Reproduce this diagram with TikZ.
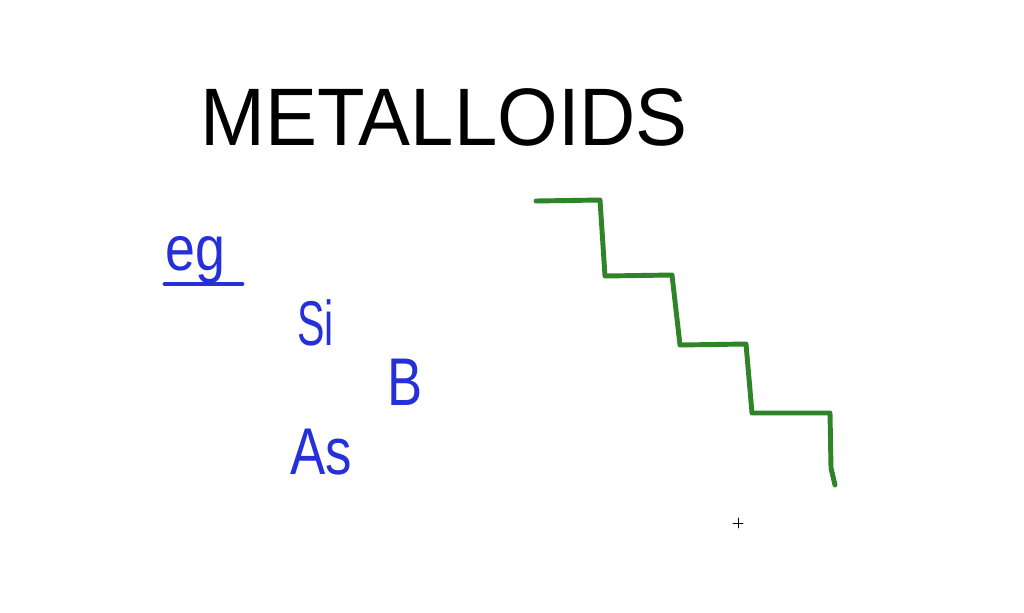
\documentclass[tikz,border=0pt]{standalone}
\usepackage{fontspec}
\setmainfont{Liberation Sans}
\usetikzlibrary{positioning}
\definecolor{penblue}{RGB}{38,48,216}
\definecolor{pengreen}{RGB}{46,132,38}

\begin{document}
\begin{tikzpicture}[x=0.025cm,y=-0.025cm,line cap=round,line join=round,
  ink/.style={inner sep=0pt,anchor=base west,text=penblue},
  pen/.style={line width=3.5pt}]
\useasboundingbox[fill=white] (0,0) rectangle (1024,612);

\node[inner sep=0pt,anchor=base west,xscale=0.955,font=\fontsize{58}{58}\selectfont] (title) at (200,145) {METALLOIDS};

\node[ink,xscale=0.85,font=\fontsize{45}{45}\selectfont] (eg) at (165,270) {eg};
\draw[penblue,pen] (165,284) -- (242,284);

\node[ink,xscale=0.65,font=\fontsize{45}{45}\selectfont] (si) at (297,345) {Si};
\node[ink,xscale=0.78,font=\fontsize{48}{48}\selectfont] (b) at (387,405) {B};
\node[ink,xscale=0.8,font=\fontsize{47}{47}\selectfont] (as) at (290,474) {As};

% staircase
\draw[pengreen,pen] (536,201) -- (600,200) -- (605,276) -- (672,275) -- (680,345)
  -- (746,344) -- (752,413) -- (830,413) -- (831,468) -- (835,485);

% cursor
\draw[thin] (733,523) -- (743,523) (738,518) -- (738,528);
\end{tikzpicture}
\end{document}
